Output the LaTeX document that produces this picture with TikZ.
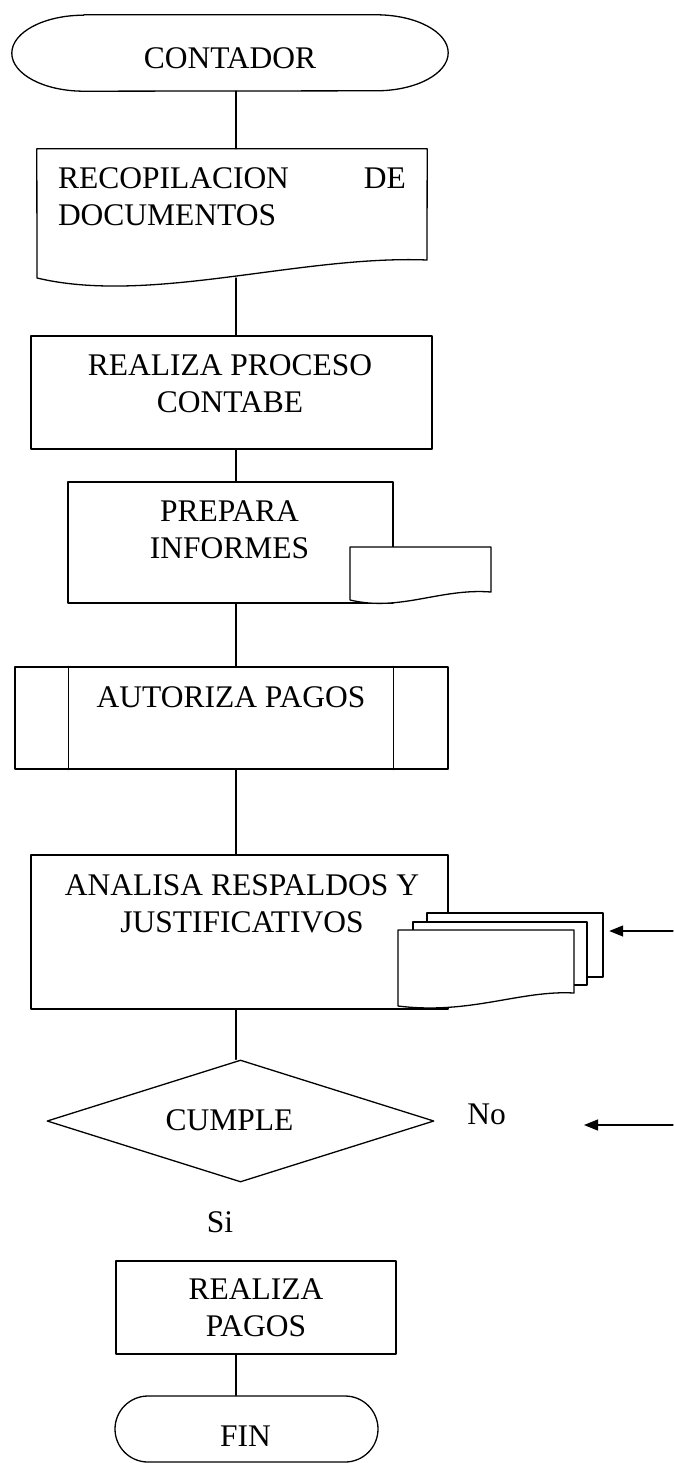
\documentclass[tikz,border=0pt]{standalone}
\usepackage{fontspec}
\setmainfont{Liberation Serif}
\usetikzlibrary{arrows.meta, shapes.geometric, shapes.misc, calc}

\begin{document}
\begin{tikzpicture}[x=1pt,y=-1pt,line cap=round,line join=round,
  every node/.style={font=\fontsize{31.5}{37}\selectfont, inner sep=0pt},
  wire/.style={line width=1.3pt},
  box/.style={draw, rectangle, line width=1.3pt, fill=white},
  txt/.style={align=center},
  >={Triangle[length=14pt,width=11pt]}]
  \useasboundingbox (0,0) rectangle (673,1463);
  \coordinate (spine) at (236,0);
  % ---- start -------------------------------------------------------------
  \node[minimum width=436pt, minimum height=76pt] (contador) at (230,53) {};
  \draw[wire] ([xshift=72pt]contador.north west) -- ([xshift=-72pt]contador.north east)
    arc[start angle=90,end angle=-90,x radius=72pt,y radius=38pt]
    -- ([xshift=72pt]contador.south west)
    arc[start angle=270,end angle=90,x radius=72pt,y radius=38pt] -- cycle;
  \node[txt] (contador-t) at (230,58) {CONTADOR};
  % ---- documents -----------------------------------------------------------
  \node[minimum width=390pt, minimum height=137pt] (recop) at (232,217.5) {};
  \draw[wire] (recop.north west) -- (recop.north east) -- (427,260)
    .. controls (300,255) and (150,305) .. (37,278) -- cycle;
  \coordinate (recop-out) at (236,278);
  \node[align=left] (recop-t) at (232,197)
    {\makebox[348pt][s]{RECOPILACION DE}\\DOCUMENTOS};
  % ---- accounting ----------------------------------------------------------
  \node[box, minimum width=401pt, minimum height=113pt] (proc) at (231.5,392.5) {};
  \node[txt] (proc-t) at (230,383.5) {REALIZA PROCESO\\CONTABE};
  % ---- reports ---------------------------------------------------------------
  \node[box, minimum width=325pt, minimum height=121pt] (prep) at (230.5,542.5) {};
  \draw[wire, fill=white] (350,547) -- (491,547) -- (491,592)
    .. controls (440,588) and (400,612) .. (350,600) -- cycle;
  \node[txt] (prep-t) at (229.5,529.5) {PREPARA\\INFORMES};
  % ---- authorise -------------------------------------------------------------
  \node[box, minimum width=433pt, minimum height=102pt] (aut) at (231.5,718) {};
  \draw[wire] ([xshift=54pt]aut.north west) -- ([xshift=54pt]aut.south west)
    ([xshift=-55pt]aut.north east) -- ([xshift=-55pt]aut.south east);
  \node[txt] (aut-t) at (231,697) {AUTORIZA PAGOS};
  % ---- analyse ---------------------------------------------------------------
  \node[box, minimum width=417pt, minimum height=154pt] (anal) at (239.5,932) {};
  \node[txt] (anal-t) at (242,903.5) {ANALISA RESPALDOS Y\\JUSTIFICATIVOS};
  \node[minimum width=205pt, minimum height=96pt] (docs) at (500.5,961) {};
  \draw[wire, fill=white] (427,913) rectangle (603,977);
  \draw[wire, fill=white] (413,922) rectangle (587,985);
  \draw[wire, fill=white] (398,930) -- (574,930) -- (574,993)
    .. controls (520,990) and (470,1015) .. (398,1006) -- cycle;
  % ---- decision --------------------------------------------------------------
  \node[draw, diamond, line width=1.3pt, minimum width=387pt, minimum height=122pt]
    (cumple) at (240.5,1121) {};
  \node[txt] (cumple-t) at (229.5,1120) {CUMPLE};
  \node (no) at (486.5,1114) {No};
  \node (si) at (220,1222) {Si};
  % ---- end -------------------------------------------------------------------
  \node[box, minimum width=280pt, minimum height=93pt, align=center]
    (pagos) at (256,1307.5) {REALIZA\\PAGOS};
  \node[draw, rounded rectangle, line width=1.3pt, minimum width=263pt,
    minimum height=66pt] (fin) at (246.5,1429) {};
  \node (fin-t) at (245.5,1436) {FIN};
  % ---- connectors ------------------------------------------------------------
  \draw[wire] (contador.south -| spine) -- (recop.north -| spine);
  \draw[wire] (recop-out) -- (proc.north -| spine);
  \draw[wire] (proc.south -| spine) -- (prep.north -| spine);
  \draw[wire] (prep.south -| spine) -- (aut.north -| spine);
  \draw[wire] (aut.south -| spine) -- (anal.north -| spine);
  \draw[wire] (anal.south -| spine) -- (cumple.north -| spine);
  \draw[wire] (pagos.south -| spine) -- (fin.north -| spine);
  \coordinate (in-docs) at (673,931);
  \coordinate (in-no) at (673,1125);
  \coordinate (no-tip) at (584,1125);
  \draw[wire,->] (in-docs) -- ([xshift=6pt]docs.east |- in-docs);
  \draw[wire,->] (in-no) -- (no-tip);
\end{tikzpicture}
\end{document}
